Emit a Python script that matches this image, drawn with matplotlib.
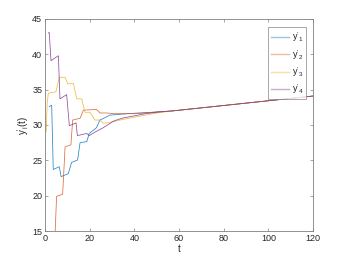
import matplotlib
matplotlib.use("Agg")
import matplotlib.pyplot as plt

# data
t1 = [1.9, 3.0, 3.7, 6.4, 7.2, 10.4, 11.9, 14.6, 15.7, 18.7, 19.8, 23.0, 24.6, 26.0, 29.0, 33.0, 37.0, 42.0, 48.0, 57.3, 80, 100, 120]
y1 = [32.6, 32.8, 23.7, 24.1, 22.7, 23.1, 24.7, 25.05, 27.5, 27.65, 28.8, 29.6, 30.7, 30.9, 31.4, 31.5, 31.6, 31.7, 31.8, 32.0, 32.76, 33.43, 34.1]

t2 = [4.5, 5.2, 7.9, 9.0, 11.6, 12.4, 15.7, 17.2, 23.1, 24.6, 27.6, 31.0, 35.0, 40.0, 45.0, 50.0, 57.3, 80, 100, 120]
y2 = [14.5, 19.9, 20.2, 26.9, 27.2, 30.7, 30.95, 32.1, 32.2, 31.7, 31.7, 31.6, 31.6, 31.6, 31.7, 31.85, 32.0, 32.76, 33.43, 34.1]

t3 = [0.5, 1.0, 1.5, 4.9, 6.4, 9.0, 10.2, 12.7, 14.2, 16.4, 17.9, 20.1, 22.4, 24.6, 26.1, 28.0, 31.0, 35.0, 40.0, 45.0, 50.0, 57.3, 80, 100, 120]
y3 = [29.0, 33.1, 34.5, 34.7, 36.75, 36.75, 35.8, 35.9, 33.7, 33.7, 31.8, 31.8, 30.7, 30.7, 30.25, 30.3, 30.5, 30.8, 31.1, 31.4, 31.7, 32.0, 32.76, 33.43, 34.1]

t4 = [1.5, 1.9, 2.7, 6.0, 6.7, 9.7, 10.9, 13.9, 14.5, 18.7, 19.8, 23.0, 26.0, 28.0, 31.0, 35.0, 40.0, 45.0, 50.0, 57.3, 80, 100, 120]
y4 = [43.0, 43.1, 39.1, 39.8, 33.7, 34.3, 29.9, 30.3, 28.5, 28.8, 28.5, 29.1, 29.6, 30.0, 30.6, 31.0, 31.3, 31.6, 31.8, 32.0, 32.76, 33.43, 34.1]

labels = [r"$\mathrm{y}'_1$", r"$\mathrm{y}'_2$", r"$\mathrm{y}'_3$", r"$\mathrm{y}'_4$"]
colors = ["#0072BD", "#D95319", "#EDB120", "#7E2F8E"]
xticks = [0, 20, 40, 60, 80, 100, 120]
yticks = [15, 20, 25, 30, 35, 40, 45]

plt.rcParams['font.family'] = ['Liberation Sans', 'DejaVu Sans']
plt.rcParams['mathtext.fontset'] = 'custom'
plt.rcParams['mathtext.rm'] = 'Liberation Sans'
plt.rcParams['mathtext.it'] = 'Liberation Sans'

fig = plt.figure(figsize=(3.46, 2.60), dpi=100)
ax = fig.add_axes([0.13, 0.1115, 0.775, 0.8155])

lines = []
for t, y, c, lab in zip([t1, t2, t3, t4], [y1, y2, y3, y4], colors, labels):
    ln, = ax.plot(t, y, color=c, lw=0.55, alpha=0.85, label=lab)
    lines.append(ln)

ax.set_xlim(0, 120)
ax.set_ylim(15, 45)
ax.set_xticks(xticks)
ax.set_yticks(yticks)
grey = "#262626"
for s in ax.spines.values():
    s.set_linewidth(0.6)
    s.set_color("#808080")
ax.tick_params(direction='in', length=2.5, width=0.5, top=True, right=True,
               labelsize=6.5, colors="#808080", labelcolor=grey, pad=2)
ax.set_xlabel("t", fontsize=7, color=grey, labelpad=1)
ax.set_ylabel(r"$\mathrm{y}'_\mathrm{i}$(t)", fontsize=7, color=grey, labelpad=1)

leg = ax.legend(loc='upper right', fontsize=6.5, frameon=True, fancybox=False,
                edgecolor="#808080", handlelength=2.0, handletextpad=0.3,
                borderpad=0.35, labelspacing=0.4, borderaxespad=0.0,
                bbox_to_anchor=(0.975, 0.96))
leg.get_frame().set_linewidth(0.6)
for h in leg.legend_handles:
    h.set_alpha(0.4)
    h.set_linewidth(1.0)
for txt in leg.get_texts():
    txt.set_color(grey)

fig.savefig("out.png", dpi=100)
